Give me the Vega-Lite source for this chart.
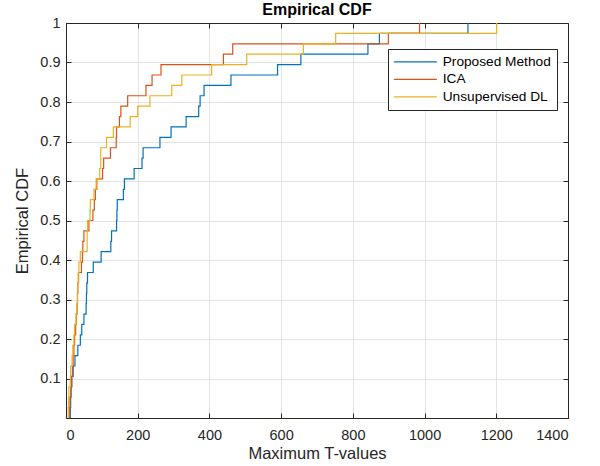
{
  "$schema": "https://vega.github.io/schema/vega-lite/v6.json",
  "width": 502,
  "height": 395,
  "autosize": {"type": "none"},
  "padding": {"left": 66, "top": 23, "right": 32, "bottom": 48},
  "background": "white",
  "title": {"text": "Empirical CDF", "fontSize": 16, "font": "Liberation Sans", "fontWeight": "bold", "color": "#000000", "offset": -3, "anchor": "middle"},
  "data": {"values": [
    {"m": "Proposed Method", "x": 12, "y": 0},
    {"m": "Proposed Method", "x": 12, "y": 0.0263},
    {"m": "Proposed Method", "x": 13, "y": 0.0526},
    {"m": "Proposed Method", "x": 14, "y": 0.0789},
    {"m": "Proposed Method", "x": 16, "y": 0.1053},
    {"m": "Proposed Method", "x": 20, "y": 0.1316},
    {"m": "Proposed Method", "x": 25, "y": 0.1579},
    {"m": "Proposed Method", "x": 33, "y": 0.1842},
    {"m": "Proposed Method", "x": 40, "y": 0.2105},
    {"m": "Proposed Method", "x": 44, "y": 0.2368},
    {"m": "Proposed Method", "x": 50, "y": 0.2632},
    {"m": "Proposed Method", "x": 56, "y": 0.2895},
    {"m": "Proposed Method", "x": 57, "y": 0.3158},
    {"m": "Proposed Method", "x": 58, "y": 0.3421},
    {"m": "Proposed Method", "x": 60, "y": 0.3684},
    {"m": "Proposed Method", "x": 76, "y": 0.3947},
    {"m": "Proposed Method", "x": 98, "y": 0.4211},
    {"m": "Proposed Method", "x": 125, "y": 0.4474},
    {"m": "Proposed Method", "x": 127, "y": 0.4737},
    {"m": "Proposed Method", "x": 141, "y": 0.5},
    {"m": "Proposed Method", "x": 142, "y": 0.5263},
    {"m": "Proposed Method", "x": 143, "y": 0.5526},
    {"m": "Proposed Method", "x": 160, "y": 0.5789},
    {"m": "Proposed Method", "x": 163, "y": 0.6053},
    {"m": "Proposed Method", "x": 190, "y": 0.6316},
    {"m": "Proposed Method", "x": 212, "y": 0.6579},
    {"m": "Proposed Method", "x": 215, "y": 0.6842},
    {"m": "Proposed Method", "x": 262, "y": 0.7105},
    {"m": "Proposed Method", "x": 293, "y": 0.7368},
    {"m": "Proposed Method", "x": 335, "y": 0.7632},
    {"m": "Proposed Method", "x": 370, "y": 0.7895},
    {"m": "Proposed Method", "x": 374, "y": 0.8158},
    {"m": "Proposed Method", "x": 385, "y": 0.8421},
    {"m": "Proposed Method", "x": 460, "y": 0.8684},
    {"m": "Proposed Method", "x": 590, "y": 0.8947},
    {"m": "Proposed Method", "x": 655, "y": 0.9211},
    {"m": "Proposed Method", "x": 842, "y": 0.9474},
    {"m": "Proposed Method", "x": 874, "y": 0.9737},
    {"m": "Proposed Method", "x": 1121, "y": 1},
    {"m": "ICA", "x": 9, "y": 0},
    {"m": "ICA", "x": 9, "y": 0.0263},
    {"m": "ICA", "x": 11, "y": 0.0526},
    {"m": "ICA", "x": 14, "y": 0.0789},
    {"m": "ICA", "x": 16, "y": 0.1053},
    {"m": "ICA", "x": 18, "y": 0.1316},
    {"m": "ICA", "x": 20, "y": 0.1579},
    {"m": "ICA", "x": 22, "y": 0.1842},
    {"m": "ICA", "x": 24, "y": 0.2105},
    {"m": "ICA", "x": 27, "y": 0.2368},
    {"m": "ICA", "x": 29, "y": 0.2632},
    {"m": "ICA", "x": 31, "y": 0.2895},
    {"m": "ICA", "x": 32, "y": 0.3158},
    {"m": "ICA", "x": 33, "y": 0.3421},
    {"m": "ICA", "x": 35, "y": 0.3684},
    {"m": "ICA", "x": 43, "y": 0.3947},
    {"m": "ICA", "x": 46, "y": 0.4211},
    {"m": "ICA", "x": 47, "y": 0.4474},
    {"m": "ICA", "x": 50, "y": 0.4737},
    {"m": "ICA", "x": 64, "y": 0.5},
    {"m": "ICA", "x": 75, "y": 0.5263},
    {"m": "ICA", "x": 79, "y": 0.5526},
    {"m": "ICA", "x": 82, "y": 0.5789},
    {"m": "ICA", "x": 86, "y": 0.6053},
    {"m": "ICA", "x": 102, "y": 0.6316},
    {"m": "ICA", "x": 105, "y": 0.6579},
    {"m": "ICA", "x": 124, "y": 0.6842},
    {"m": "ICA", "x": 140, "y": 0.7105},
    {"m": "ICA", "x": 141, "y": 0.7368},
    {"m": "ICA", "x": 149, "y": 0.7632},
    {"m": "ICA", "x": 153, "y": 0.7895},
    {"m": "ICA", "x": 172, "y": 0.8158},
    {"m": "ICA", "x": 223, "y": 0.8421},
    {"m": "ICA", "x": 240, "y": 0.8684},
    {"m": "ICA", "x": 265, "y": 0.8947},
    {"m": "ICA", "x": 439, "y": 0.9211},
    {"m": "ICA", "x": 465, "y": 0.9474},
    {"m": "ICA", "x": 899, "y": 0.9737},
    {"m": "ICA", "x": 986, "y": 1},
    {"m": "Unsupervised DL", "x": 6, "y": 0},
    {"m": "Unsupervised DL", "x": 6, "y": 0.0263},
    {"m": "Unsupervised DL", "x": 7, "y": 0.0526},
    {"m": "Unsupervised DL", "x": 8, "y": 0.0789},
    {"m": "Unsupervised DL", "x": 12, "y": 0.1053},
    {"m": "Unsupervised DL", "x": 13, "y": 0.1316},
    {"m": "Unsupervised DL", "x": 17, "y": 0.1579},
    {"m": "Unsupervised DL", "x": 19, "y": 0.1842},
    {"m": "Unsupervised DL", "x": 22, "y": 0.2105},
    {"m": "Unsupervised DL", "x": 24, "y": 0.2368},
    {"m": "Unsupervised DL", "x": 28, "y": 0.2632},
    {"m": "Unsupervised DL", "x": 30, "y": 0.2895},
    {"m": "Unsupervised DL", "x": 32, "y": 0.3158},
    {"m": "Unsupervised DL", "x": 33, "y": 0.3421},
    {"m": "Unsupervised DL", "x": 34, "y": 0.3684},
    {"m": "Unsupervised DL", "x": 36, "y": 0.3947},
    {"m": "Unsupervised DL", "x": 40, "y": 0.4211},
    {"m": "Unsupervised DL", "x": 59, "y": 0.4474},
    {"m": "Unsupervised DL", "x": 59, "y": 0.4737},
    {"m": "Unsupervised DL", "x": 60, "y": 0.5},
    {"m": "Unsupervised DL", "x": 67, "y": 0.5263},
    {"m": "Unsupervised DL", "x": 68, "y": 0.5526},
    {"m": "Unsupervised DL", "x": 78, "y": 0.5789},
    {"m": "Unsupervised DL", "x": 84, "y": 0.6053},
    {"m": "Unsupervised DL", "x": 94, "y": 0.6316},
    {"m": "Unsupervised DL", "x": 97, "y": 0.6579},
    {"m": "Unsupervised DL", "x": 97, "y": 0.6842},
    {"m": "Unsupervised DL", "x": 113, "y": 0.7105},
    {"m": "Unsupervised DL", "x": 132, "y": 0.7368},
    {"m": "Unsupervised DL", "x": 179, "y": 0.7632},
    {"m": "Unsupervised DL", "x": 200, "y": 0.7895},
    {"m": "Unsupervised DL", "x": 234, "y": 0.8158},
    {"m": "Unsupervised DL", "x": 295, "y": 0.8421},
    {"m": "Unsupervised DL", "x": 323, "y": 0.8684},
    {"m": "Unsupervised DL", "x": 406, "y": 0.8947},
    {"m": "Unsupervised DL", "x": 504, "y": 0.9211},
    {"m": "Unsupervised DL", "x": 662, "y": 0.9474},
    {"m": "Unsupervised DL", "x": 752, "y": 0.9737},
    {"m": "Unsupervised DL", "x": 1201, "y": 1}
  ]},
  "layer": [
    {
      "mark": {"type": "line", "interpolate": "step-after", "strokeWidth": 1.2, "clip": true},
      "encoding": {
        "x": {"field": "x", "type": "quantitative",
          "scale": {"domain": [0, 1400], "nice": false, "zero": false},
          "axis": {"orient": "bottom", "title": "Maximum T-values", "values": [0, 200, 400, 600, 800, 1000, 1200, 1400], "format": "d", "labelPadding": 15, "titlePadding": 4}},
        "y": {"field": "y", "type": "quantitative",
          "scale": {"domain": [0, 1], "nice": false, "zero": false},
          "axis": {"orient": "left", "title": "Empirical CDF", "values": [0.1, 0.2, 0.3, 0.4, 0.5, 0.6, 0.7, 0.8, 0.9, 1], "format": "~g", "titlePadding": 9}},
        "color": {"field": "m", "type": "nominal", "title": null,
          "scale": {"domain": ["Proposed Method", "ICA", "Unsupervised DL"], "range": ["#0072BD", "#D95319", "#EDB120"]},
          "legend": {"orient": "none", "legendX": 322, "legendY": 26, "symbolType": "M-1.63,0H8.37", "symbolSize": 74, "symbolStrokeWidth": 1.2,
            "labelFontSize": 13.7, "labelFont": "Liberation Sans", "labelColor": "#000000", "labelOffset": 35,
            "strokeColor": "#262626", "fillColor": "#ffffff", "padding": 6, "rowPadding": 2.5}},
        "order": {"field": "y", "type": "quantitative"}
      }
    },
    {
      "mark": {"type": "line", "opacity": 0},
      "encoding": {
        "x": {"field": "x", "type": "quantitative",
          "axis": {"orient": "top", "title": null, "labels": false, "grid": false, "values": [0, 200, 400, 600, 800, 1000, 1200, 1400]}},
        "y": {"field": "y", "type": "quantitative",
          "axis": {"orient": "right", "title": null, "labels": false, "grid": false, "values": [0.1, 0.2, 0.3, 0.4, 0.5, 0.6, 0.7, 0.8, 0.9, 1]}},
        "detail": {"field": "m"}
      }
    }
  ],
  "resolve": {"axis": {"x": "independent", "y": "independent"}},
  "config": {
    "view": {"stroke": "#262626", "strokeWidth": 1},
    "axis": {
      "domainColor": "#262626", "domainWidth": 1,
      "tickColor": "#262626", "tickSize": -5, "tickWidth": 1,
      "gridColor": "#e3e3e3", "gridWidth": 1,
      "labelFont": "Liberation Sans", "labelFontSize": 14.5, "labelColor": "#262626", "labelPadding": 11,
      "titleFont": "Liberation Sans", "titleFontSize": 16.5, "titleFontWeight": "normal", "titleColor": "#262626"
    }
  }
}
